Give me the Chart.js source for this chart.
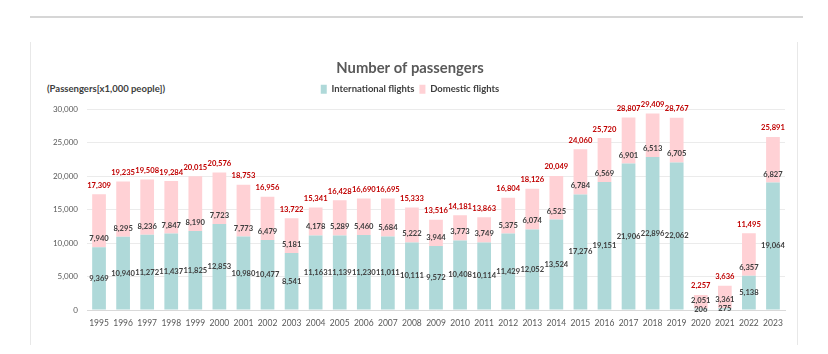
<!DOCTYPE html>
<html>
<head>
<meta charset="utf-8">
<script src="https://cdn.jsdelivr.net/npm/chart.js@4.4.0/dist/chart.umd.min.js"></script>
<style>
  html, body { margin: 0; padding: 0; background: #ffffff; }
  #wrap { position: relative; width: 828px; height: 354px; overflow: hidden; }
  #topline { position: absolute; left: 30px; top: 16px; width: 773px; height: 2px; background: #d6d6d6; }
  #card { position: absolute; left: 30px; top: 42px; width: 766px; height: 303px;
          border-left: 1px solid #e8e8e8; border-right: 1px solid #e8e8e8; box-sizing: content-box; }
  #unit { position: absolute; left: 47px; top: 83px; font: bold 9.5px Lato, sans-serif; color: #404040; white-space: nowrap; }
  canvas { position: absolute; left: 0; top: 0; }
</style>
</head>
<body>
<div id="wrap">
  <div id="topline"></div>
  <div id="card"></div>
  <div id="unit">(Passengers[x1,000 people])</div>
  <canvas id="c" width="828" height="354"></canvas>
</div>
<script>
const years = ['1995','1996','1997','1998','1999','2000','2001','2002','2003','2004','2005','2006','2007','2008','2009','2010','2011','2012','2013','2014','2015','2016','2017','2018','2019','2020','2021','2022','2023'];
const international = [9369,10940,11272,11437,11825,12853,10980,10477,8541,11163,11139,11230,11011,10111,9572,10408,10114,11429,12052,13524,17276,19151,21906,22896,22062,206,275,5138,19064];
const domestic = [7940,8295,8236,7847,8190,7723,7773,6479,5181,4178,5289,5460,5684,5222,3944,3773,3749,5375,6074,6525,6784,6569,6901,6513,6705,2051,3361,6357,6827];
const totals = [17309,19235,19508,19284,20015,20576,18753,16956,13722,15341,16428,16690,16695,15333,13516,14181,13863,16804,18126,20049,24060,25720,28807,29409,28767,2257,3636,11495,25891];
const yTicks = [0,5000,10000,15000,20000,25000,30000];

const fmt = v => v.toLocaleString('en-US');

const legendFitPlugin = {
  id: 'legendFit',
  beforeLayout(chart) {
    const lg = chart.legend;
    if (lg && !lg._patched) {
      const f = lg.fit;
      lg.fit = function () { f.call(this); this.height += 5.5; };
      lg._patched = true;
    }
  }
};

const valueLabels = {
  id: 'valueLabels',
  afterDatasetsDraw(chart) {
    const ctx = chart.ctx;
    const intl = chart.getDatasetMeta(0).data;
    const dom = chart.getDatasetMeta(1).data;
    ctx.save();
    ctx.textAlign = 'center';
    ctx.textBaseline = 'middle';
    ctx.font = 'bold 7.6px Lato, sans-serif';
    intl.forEach((bar, i) => {
      ctx.fillStyle = '#404040';
      ctx.fillText(fmt(international[i]), bar.x, (bar.y + bar.base) / 2);
    });
    dom.forEach((bar, i) => {
      ctx.fillStyle = '#404040';
      ctx.fillText(fmt(domestic[i]), bar.x, bar.base - 8.5);
      ctx.fillStyle = '#c00000';
      ctx.fillText(fmt(totals[i]), bar.x, bar.y - 9);
    });
    ctx.restore();
  }
};

new Chart(document.getElementById('c'), {
  type: 'bar',
  data: {
    labels: years,
    datasets: [
      { label: 'International flights', data: international, backgroundColor: '#afd9d9', borderWidth: 0,
        barPercentage: 0.57, categoryPercentage: 1 },
      { label: 'Domestic flights', data: domestic, backgroundColor: '#ffd1d5', borderWidth: 0,
        barPercentage: 0.57, categoryPercentage: 1 }
    ]
  },
  options: {
    responsive: false,
    animation: false,
    devicePixelRatio: 1,
    layout: { padding: { left: 35, right: 43, top: 0, bottom: 14 } },
    plugins: {
      title: {
        display: true,
        text: 'Number of passengers',
        color: '#595959',
        font: { family: 'Lato', size: 14.8, weight: 'bold' },
        padding: { top: 59, bottom: 2.7 }
      },
      legend: {
        display: true,
        labels: {
          boxWidth: 6, boxHeight: 9, padding: 5,
          color: '#404040',
          font: { family: 'Lato', size: 9.5, weight: 'bold' }
        }
      },
      tooltip: { enabled: false }
    },
    scales: {
      x: {
        stacked: true,
        grid: { display: false, drawTicks: false },
        border: { display: true, color: '#d9d9d9' },
        ticks: { color: '#595959', font: { family: 'Lato', size: 8.5 }, padding: 8, maxRotation: 0, autoSkip: false },
        afterFit(scale) { scale.height = 30; }
      },
      y: {
        stacked: true,
        min: 0, max: 30000,
        afterBuildTicks(scale) { scale.ticks = yTicks.map(v => ({ value: v })); },
        grid: { color: '#ebebeb', drawTicks: false },
        border: { display: false },
        ticks: { color: '#595959', font: { family: 'Lato', size: 8 }, padding: 9, callback: v => fmt(v) },
        afterFit(scale) { scale.width = 52; }
      }
    }
  },
  plugins: [legendFitPlugin, valueLabels]
});
</script>
</body>
</html>
